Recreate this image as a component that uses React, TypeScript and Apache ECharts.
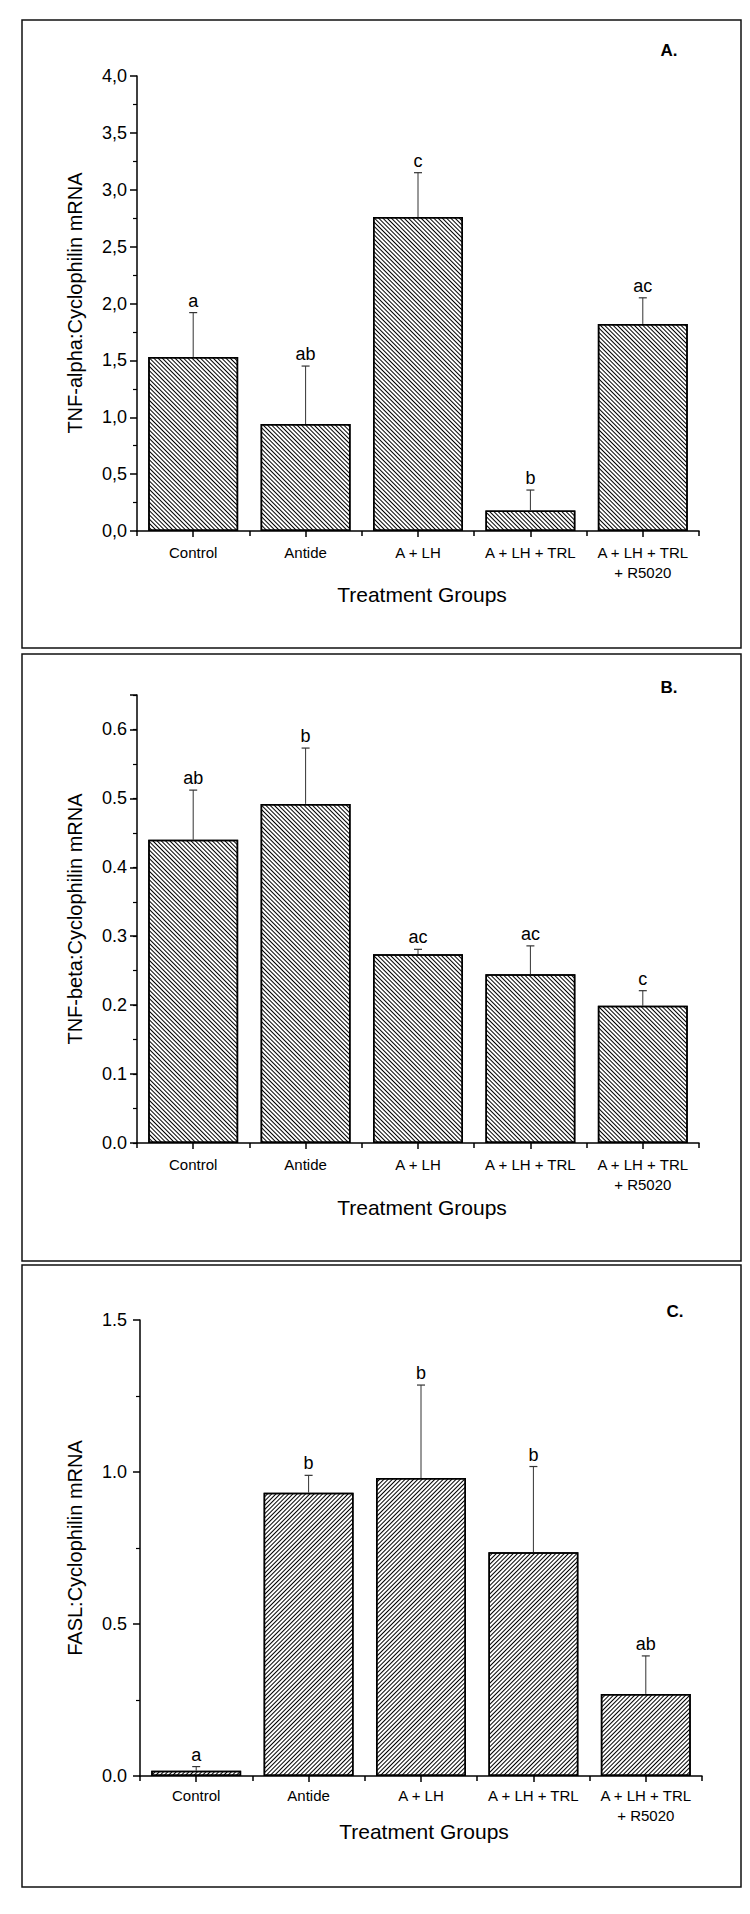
import React, { useEffect, useRef } from 'react';
import * as echarts from 'echarts';

const categories = ['Control', 'Antide', 'A + LH', 'A + LH + TRL', 'A + LH + TRL\n+ R5020'];

const tnfAlphaMeans = [1.53, 0.94, 2.76, 0.18, 1.82];
const tnfAlphaErrTops = [1.92, 1.45, 3.15, 0.36, 2.05];
const tnfAlphaLetters = ['a', 'ab', 'c', 'b', 'ac'];

const tnfBetaMeans = [0.44, 0.492, 0.274, 0.245, 0.199];
const tnfBetaErrTops = [0.512, 0.573, 0.281, 0.286, 0.221];
const tnfBetaLetters = ['ab', 'b', 'ac', 'ac', 'c'];

const faslMeans = [0.017, 0.932, 0.98, 0.736, 0.27];
const faslErrTops = [0.031, 0.989, 1.286, 1.018, 0.395];
const faslLetters = ['a', 'b', 'b', 'b', 'ab'];

const panelLetters = ['A.', 'B.', 'C.'];
const yTitles = ['TNF-alpha:Cyclophilin mRNA', 'TNF-beta:Cyclophilin mRNA', 'FASL:Cyclophilin mRNA'];
const xTitle = 'Treatment Groups';

const FONT = '"Liberation Sans", Arial, Helvetica, sans-serif';

const hatch = (rot: number) => ({
  symbol: 'rect',
  symbolSize: 1,
  color: '#000',
  dashArrayX: [1, 0],
  dashArrayY: [1, 2],
  rotation: rot,
});

function barSeries(xi: number, yi: number, data: number[], rot: number) {
  return {
    type: 'bar',
    xAxisIndex: xi,
    yAxisIndex: yi,
    data,
    barWidth: '80%',
    itemStyle: { color: '#fff', borderColor: '#000', borderWidth: 1.5, decal: hatch(rot) },
    z: 2,
  };
}

function errSeries(xi: number, yi: number, means: number[], tops: number[], letters: string[]) {
  return {
    type: 'custom',
    xAxisIndex: xi,
    yAxisIndex: yi,
    z: 5,
    data: means.map((m, i) => [i, m, tops[i]]),
    encode: { x: 0, y: [1, 2] },
    renderItem: (params: any, api: any) => {
      const i = api.value(0);
      const p0 = api.coord([i, api.value(1)]);
      const p1 = api.coord([i, api.value(2)]);
      return {
        type: 'group',
        children: [
          { type: 'line', shape: { x1: p0[0], y1: p0[1], x2: p1[0], y2: p1[1] }, style: { stroke: '#333', lineWidth: 1 } },
          { type: 'line', shape: { x1: p1[0] - 4, y1: p1[1], x2: p1[0] + 4, y2: p1[1] }, style: { stroke: '#333', lineWidth: 1.2 } },
          {
            type: 'text',
            x: p1[0],
            y: p1[1] - 12,
            style: {
              text: letters[params.dataIndex],
              font: `18px ${FONT}`,
              fill: '#000',
              align: 'center',
              verticalAlign: 'middle',
              textAlign: 'center',
              textVerticalAlign: 'middle',
            },
          },
        ],
      };
    },
  };
}

function xAxes(gridIndex: number, labelMargin: number) {
  return [
    {
      gridIndex,
      type: 'category',
      data: categories,
      position: 'bottom',
      boundaryGap: true,
      axisLine: { show: true, onZero: false, lineStyle: { color: '#000', width: 1.5 } },
      axisTick: { show: true, length: 5, lineStyle: { color: '#000', width: 1.5 } },
      axisLabel: { show: true, fontSize: 15, fontFamily: FONT, color: '#000', margin: labelMargin, lineHeight: 20, interval: 0 },
      splitLine: { show: false },
    },
    {
      gridIndex,
      type: 'category',
      data: categories,
      position: 'bottom',
      boundaryGap: true,
      axisLine: { show: false, onZero: false },
      axisTick: { show: true, alignWithLabel: true, length: 6, lineStyle: { color: '#000', width: 1.5 } },
      axisLabel: { show: false },
      splitLine: { show: false },
    },
  ];
}

const yBase = {
  type: 'value',
  position: 'left',
  splitLine: { show: false },
  axisLine: { show: true, lineStyle: { color: '#000', width: 1.5 } },
  axisTick: { show: true, length: 7, lineStyle: { color: '#000', width: 1.5 } },
};

function textEl(x: number, y: number, text: string, font: string, rotation = 0) {
  return {
    type: 'text',
    x,
    y,
    rotation,
    silent: true,
    style: {
      text,
      font,
      fill: '#000',
      align: 'center',
      verticalAlign: 'middle',
      textAlign: 'center',
      textVerticalAlign: 'middle',
    },
  };
}

export default function App() {
  const ref = useRef<HTMLDivElement>(null);
  useEffect(() => {
    if (!ref.current) return;
    const chart = echarts.init(ref.current, null, { renderer: 'svg' });
    const option: any = {
      animation: false,
      backgroundColor: '#fff',
      grid: [
        { left: 137, top: 76, width: 562, height: 455 },
        { left: 137, top: 695, width: 562, height: 448 },
        { left: 140, top: 1320, width: 562, height: 456 },
      ],
      xAxis: [...xAxes(0, 11), ...xAxes(1, 11), ...xAxes(2, 9)],
      yAxis: [
        {
          ...yBase,
          gridIndex: 0,
          min: 0,
          max: 4,
          interval: 0.5,
          minorTick: { show: true, splitNumber: 2, length: 4, lineStyle: { color: '#000', width: 1.2 } },
          axisLabel: { fontSize: 18, fontFamily: FONT, color: '#000', margin: 10, formatter: (v: number) => v.toFixed(1).replace('.', ',') },
        },
        {
          ...yBase,
          gridIndex: 1,
          min: 0,
          max: 0.65,
          interval: 0.05,
          axisTick: { show: true, length: 4, lineStyle: { color: '#000', width: 1.2 } },
          axisLabel: { show: false },
        },
        {
          ...yBase,
          gridIndex: 1,
          min: 0,
          max: 0.65,
          interval: 0.1,
          axisLine: { show: false },
          axisLabel: {
            fontSize: 18,
            fontFamily: FONT,
            color: '#000',
            margin: 10,
            formatter: (v: number) => (v > 0.62 ? '' : v.toFixed(1)),
          },
        },
        {
          ...yBase,
          gridIndex: 2,
          min: 0,
          max: 1.5,
          interval: 0.5,
          minorTick: { show: true, splitNumber: 2, length: 4, lineStyle: { color: '#000', width: 1.2 } },
          axisLabel: { fontSize: 18, fontFamily: FONT, color: '#000', margin: 13, formatter: (v: number) => v.toFixed(1) },
        },
      ],
      series: [
        barSeries(0, 0, tnfAlphaMeans, Math.PI / 4),
        errSeries(0, 0, tnfAlphaMeans, tnfAlphaErrTops, tnfAlphaLetters),
        barSeries(2, 1, tnfBetaMeans, Math.PI / 4),
        errSeries(2, 1, tnfBetaMeans, tnfBetaErrTops, tnfBetaLetters),
        barSeries(4, 3, faslMeans, -Math.PI / 4),
        errSeries(4, 3, faslMeans, faslErrTops, faslLetters),
      ],
      graphic: [
        { type: 'rect', silent: true, shape: { x: 22, y: 20, width: 719, height: 628 }, style: { fill: 'none', stroke: '#111', lineWidth: 1.5 } },
        { type: 'rect', silent: true, shape: { x: 22, y: 654, width: 719, height: 607 }, style: { fill: 'none', stroke: '#111', lineWidth: 1.5 } },
        { type: 'rect', silent: true, shape: { x: 22, y: 1265, width: 719, height: 622 }, style: { fill: 'none', stroke: '#111', lineWidth: 1.5 } },
        textEl(669, 50, panelLetters[0], `bold 17px ${FONT}`),
        textEl(669, 687, panelLetters[1], `bold 17px ${FONT}`),
        textEl(675, 1311, panelLetters[2], `bold 17px ${FONT}`),
        textEl(75, 303, yTitles[0], `20px ${FONT}`, Math.PI / 2),
        textEl(75, 919, yTitles[1], `20px ${FONT}`, Math.PI / 2),
        textEl(75, 1548, yTitles[2], `20px ${FONT}`, Math.PI / 2),
        textEl(422, 594, xTitle, `21px ${FONT}`),
        textEl(422, 1207, xTitle, `21px ${FONT}`),
        textEl(424, 1831, xTitle, `21px ${FONT}`),
      ],
    };
    chart.setOption(option);
    return () => chart.dispose();
  }, []);
  return <div ref={ref} style={{ position: 'absolute', left: 0, top: 0, width: 750, height: 1914, background: '#fff' }} />;
}
